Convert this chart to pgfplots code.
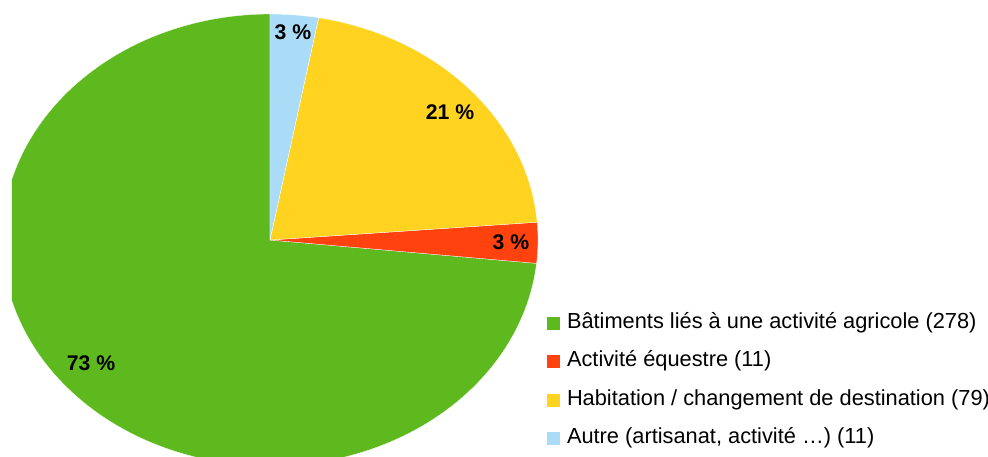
\documentclass[border=0pt]{standalone}
\usepackage{pgfplots}
\pgfplotsset{compat=1.18}
\usepackage{pgfplotstable}
\usepackage{fontspec}
\setmainfont{Liberation Sans}
\definecolor{cgreen}{HTML}{5EB91E}
\definecolor{cred}{HTML}{FF420E}
\definecolor{cyellow}{HTML}{FFD320}
\definecolor{cblue}{HTML}{AADCF7}
% counts
\def\nBat{278}
\def\nEqu{11}
\def\nHab{79}
\def\nAut{11}
\pgfmathsetmacro{\total}{\nBat+\nEqu+\nHab+\nAut}
\pgfmathsetmacro{\unit}{360/\total}
\pgfmathsetmacro{\aA}{90}
\pgfmathsetmacro{\aB}{\aA-\unit*\nAut}
\pgfmathsetmacro{\aC}{\aB-\unit*\nHab}
\pgfmathsetmacro{\aD}{\aC-\unit*\nEqu}
\pgfmathsetmacro{\aE}{\aD-\unit*\nBat}
\def\cx{270}
\def\cy{240}
\def\rx{268}
\def\ry{226}
\begin{document}
\begin{tikzpicture}
\begin{axis}[
  width=976bp, height=457bp, scale only axis,
  xmin=12, xmax=988, ymin=0, ymax=457, y dir=reverse,
  hide axis, clip=true,
  legend cell align=left,
  legend style={at={(axis cs:547,313)}, anchor=north west, draw=none, fill=none,
    font=\fontsize{21.8bp}{25bp}\selectfont, inner sep=0pt, outer sep=0pt,
    nodes={inner sep=0pt, text height=15bp, text depth=4.5bp},
    row sep=19bp},
  legend image code/.code={\fill[#1] (0bp,-7bp) rectangle (13bp,6bp); \path (20bp,0bp);},
]
\addplot[fill=cgreen, draw=white, line width=0.3bp, domain=\aD:\aE, samples=200, forget plot]
  ({\cx+\rx*cos(x)},{\cy-\ry*sin(x)}) -- (axis cs:\cx,\cy) -- cycle;
\addplot[fill=cred, draw=white, line width=0.3bp, domain=\aC:\aD, samples=10, forget plot]
  ({\cx+\rx*cos(x)},{\cy-\ry*sin(x)}) -- (axis cs:\cx,\cy) -- cycle;
\addplot[fill=cyellow, draw=white, line width=0.3bp, domain=\aB:\aC, samples=60, forget plot]
  ({\cx+\rx*cos(x)},{\cy-\ry*sin(x)}) -- (axis cs:\cx,\cy) -- cycle;
\addplot[fill=cblue, draw=white, line width=0.3bp, domain=\aA:\aB, samples=10, forget plot]
  ({\cx+\rx*cos(x)},{\cy-\ry*sin(x)}) -- (axis cs:\cx,\cy) -- cycle;
\addlegendimage{fill=cgreen, draw=none}
\addlegendentry{Bâtiments liés à une activité agricole (278)}
\addlegendimage{fill=cred, draw=none}
\addlegendentry{Activité équestre (11)}
\addlegendimage{fill=cyellow, draw=none}
\addlegendentry{Habitation / changement de destination (79)}
\addlegendimage{fill=cblue, draw=none}
\addlegendentry{Autre (artisanat, activité …) (11)}
\node[font=\fontsize{21.2bp}{25bp}\selectfont\bfseries] at (axis cs:91,363) {73 \%};
\node[font=\fontsize{21.2bp}{25bp}\selectfont\bfseries] at (axis cs:293,32) {3 \%};
\node[font=\fontsize{21.2bp}{25bp}\selectfont\bfseries] at (axis cs:450,112) {21 \%};
\node[font=\fontsize{21.2bp}{25bp}\selectfont\bfseries] at (axis cs:511,242) {3 \%};
\end{axis}
\pgfresetboundingbox
\path ([xshift=-12bp]current axis.south west) rectangle (current axis.north east);
\end{tikzpicture}
\end{document}
